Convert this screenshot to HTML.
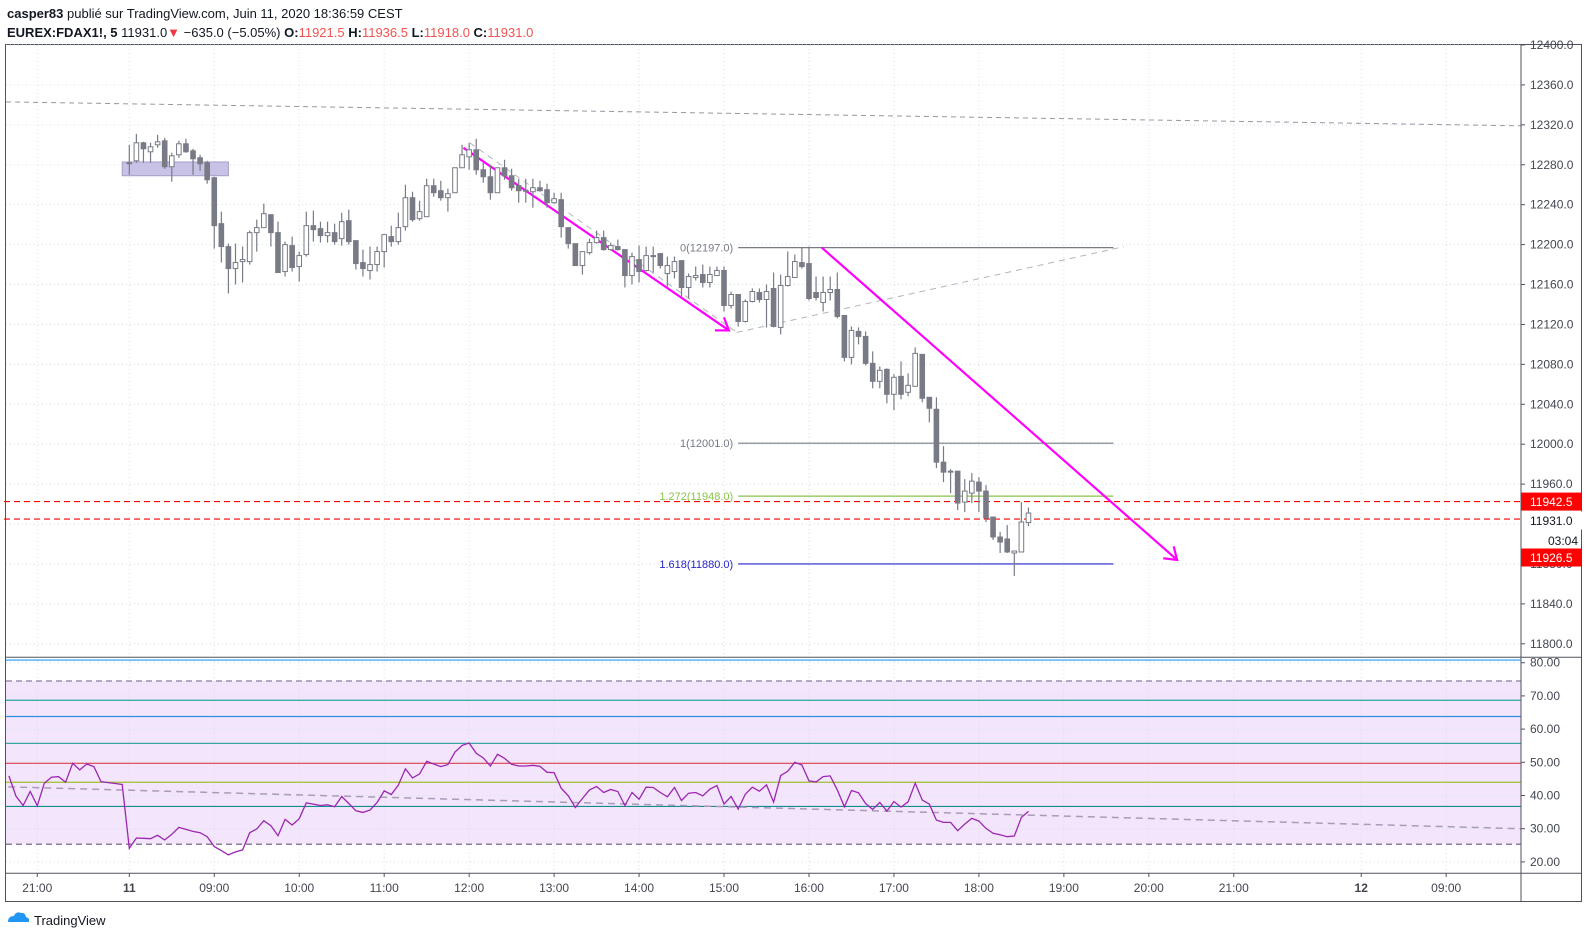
<!DOCTYPE html>
<html><head><meta charset="utf-8">
<style>
html,body{margin:0;padding:0;background:#fff;}
body{width:1588px;height:939px;overflow:hidden;font-family:"Liberation Sans",sans-serif;}
svg text{font-family:"Liberation Sans",sans-serif;}
</style></head>
<body>
<svg id="chart" width="1588" height="939" viewBox="0 0 1588 939" xmlns="http://www.w3.org/2000/svg">
  <g id="header">
    <text x="7" y="18" font-size="13" fill="#131722"><tspan font-weight="bold">casper83</tspan> publié sur TradingView.com, Juin 11, 2020 18:36:59 CEST</text>
    <text x="7" y="37" font-size="13" fill="#131722"><tspan font-weight="bold">EUREX:FDAX1!, 5</tspan> 11931.0<tspan fill="#f23645">▼</tspan> −635.0 (−5.05%) <tspan font-weight="bold">O:</tspan><tspan fill="#f05350">11921.5</tspan> <tspan font-weight="bold">H:</tspan><tspan fill="#f05350">11936.5</tspan> <tspan font-weight="bold">L:</tspan><tspan fill="#f05350">11918.0</tspan> <tspan font-weight="bold">C:</tspan><tspan fill="#f05350">11931.0</tspan></text>
  </g>
  <rect x="5.5" y="44.5" width="1576" height="857" fill="none" stroke="#50535e" stroke-width="1"/>
  <rect x="6" y="681" width="1515" height="163" fill="#f3e5fc"/>
  <g id="grid"></g>
  <g id="rsi"></g>
  <g id="drawings"></g>
  <g id="candles"></g>
  <g id="axes"></g>
  <line x1="1521" y1="44" x2="1521" y2="902" stroke="#50535e"/>
  <line x1="6" y1="657.3" x2="1582" y2="657.3" stroke="#50535e"/>
  <line x1="6" y1="873.3" x2="1582" y2="873.3" stroke="#50535e"/>
  <g>
    <path d="M8 922 q0 -6 6 -6 q2 -5 7 -3 q4 -1 5 4 q4 1 3 5 z" fill="#2196f3"/>
    <text x="34" y="925" font-size="13" fill="#131722">TradingView</text>
  </g>
</svg>
<script>
const NS="http://www.w3.org/2000/svg";
const opens=[12281,12284,12302,12293,12300,12304,12278,12290,12301,12294,12287,12282,12267,12221,12198,12176,12183,12183,12212,12217,12230,12212,12173,12199,12178,12190,12219,12216,12209,12212,12206,12224,12204,12182,12174,12180,12193,12208,12203,12218,12247,12226,12228,12259,12254,12247,12252,12277,12288,12295,12275,12268,12252,12277,12269,12259,12254,12253,12257,12255,12242,12245,12217,12201,12179,12192,12202,12207,12195,12198,12195,12169,12185,12174,12189,12191,12171,12173,12184,12157,12167,12170,12162,12169,12174,12139,12150,12123,12143,12152,12145,12156,12117,12159,12167,12182,12181,12152,12142,12152,12155,12129,12087,12113,12108,12081,12063,12075,12050,12068,12052,12058,12090,12047,12035,11982,11972,11973,11942,11951,11962,11953,11927,11907,11905,11891,11892,11921.5];
const highs=[12300,12311,12303,12302,12310,12307,12292,12304,12306,12296,12290,12284,12268,12233,12201,12201,12198,12214,12225,12241,12230,12223,12203,12208,12193,12233,12234,12223,12223,12221,12232,12235,12204,12195,12198,12198,12210,12219,12232,12260,12253,12244,12266,12266,12264,12256,12277,12300,12302,12306,12283,12280,12277,12285,12276,12266,12266,12266,12264,12261,12252,12252,12217,12201,12193,12206,12214,12214,12202,12205,12195,12192,12199,12198,12198,12191,12188,12188,12184,12171,12178,12180,12178,12178,12178,12153,12150,12145,12156,12156,12160,12172,12170,12193,12190,12197,12198,12168,12168,12168,12172,12129,12118,12117,12113,12093,12078,12076,12070,12083,12071,12097,12090,12047,12047,11998,11975,11973,11965,11971,11967,11959,11927,11912,11919,11893,11942,11936.5];
const lows=[12270,12282,12282,12282,12297,12276,12263,12287,12292,12270,12274,12261,12196,12182,12151,12160,12162,12180,12193,12217,12198,12172,12168,12173,12163,12188,12203,12202,12202,12200,12199,12200,12175,12168,12165,12173,12177,12198,12200,12214,12223,12224,12228,12248,12244,12233,12252,12277,12275,12270,12262,12245,12252,12265,12254,12242,12242,12237,12253,12237,12241,12207,12196,12179,12170,12190,12201,12194,12194,12194,12157,12160,12162,12173,12172,12176,12158,12166,12148,12146,12164,12157,12157,12169,12133,12136,12118,12122,12142,12142,12117,12117,12110,12158,12167,12176,12144,12144,12133,12144,12126,12083,12080,12100,12079,12056,12056,12041,12034,12045,12048,12058,12042,12022,11976,11962,11951,11934,11932,11941,11932,11922,11904,11891,11891,11868,11892,11918];
const closes=[12282,12302,12296,12298,12303,12278,12289,12301,12293,12286,12281,12265,12219,12198,12176,12182,12185,12212,12217,12231,12212,12172,12200,12177,12189,12219,12215,12209,12212,12203,12223,12203,12181,12176,12180,12193,12210,12203,12217,12247,12225,12233,12259,12252,12247,12251,12277,12290,12295,12275,12268,12252,12277,12269,12257,12254,12254.5,12257,12254,12242,12246,12218,12201,12179,12193,12202,12207,12195,12199,12195,12169,12188,12173,12189,12188,12179,12179,12183,12157,12168,12169,12162,12170,12174,12139,12150,12123,12143,12153,12145,12153,12118,12159,12168,12183,12178,12146,12147,12152,12155,12128,12087,12114,12108,12081,12063,12074,12050,12067,12050,12059,12091,12046,12036,11982,11972,11973,11941,11953,11963,11953,11926,11907,11902,11892,11893,11922,11931];
const rsiStart=-17;
const rsiValues=[45.9,39.8,37.0,41.2,36.9,43.7,45.5,45.7,44.0,49.7,47.7,49.5,48.7,44.2,43.9,43.6,43.3,
24.1,27.2,27.1,27.0,28.0,26.6,28.3,30.4,29.8,29.2,28.8,27.6,24.6,23.4,22.1,23.0,23.6,28.8,29.9,32.4,30.9,27.9,32.8,31.1,33.0,37.8,37.4,37.0,37.2,36.6,39.7,37.6,35.4,34.9,35.6,37.9,41.4,40.3,43.1,48.0,45.3,46.5,50.3,49.5,48.7,49.3,53.1,55.1,55.8,52.7,51.3,48.9,52.4,51.2,49.4,48.9,48.9,49.1,48.8,47.0,46.9,
42.2,39.9,36.4,39.1,41.7,42.7,40.9,41.8,41.2,37.0,40.9,38.9,42.5,42.4,40.9,39.6,42.4,38.5,40.7,40.9,39.9,41.9,43.0,37.4,39.7,35.9,40.4,42.5,41.3,43.2,38.0,46.0,47.3,50.0,49.2,44.4,44.1,45.7,45.9,41.7,36.6,41.5,40.8,37.6,35.8,37.9,35.3,38.2,36.5,38.1,43.7,38.6,37.4,32.6,31.9,31.9,29.4,31.4,33.1,32.3,30.1,28.6,28.2,27.6,27.8,33.4,35.2];
const priceTicks=[12400,12360,12320,12280,12240,12200,12160,12120,12080,12040,12000,11960,11920,11880,11840,11800];
const rsiTicks=[80,70,60,50,40,30,20];
const timeLabels=["21:00","11","09:00","10:00","11:00","12:00","13:00","14:00","15:00","16:00","17:00","18:00","19:00","20:00","21:00","12","09:00"];
const timeIndex=[-13,0,12,24,36,48,60,72,84,96,108,120,132,144,156,174,186];
const rsiLevels=[80.8,74.5,68.7,63.8,55.7,49.7,44.0,36.7,25.3];
const rsiLevelColors=["#2196f3","#9c8fb0","#26a69a","#2f8fdf","#3aa6a0","#e04050","#9ac032","#138c96","#8c7f96"];

function X(i){return 129.3+7.08*i;}
function Y(p){return 45+(12400-p)*0.998;}
function R(v){return 662.7+(80-v)*3.32;}
function mk(tag,attrs,parent){const e=document.createElementNS(NS,tag);for(const k in attrs)e.setAttribute(k,attrs[k]);parent.appendChild(e);return e;}

const grid=document.getElementById('grid');
timeIndex.forEach((ti,k)=>{
  const l=mk('line',{x1:X(ti),x2:X(ti),y1:45,y2:873,stroke:'#d6dfe6','stroke-dasharray':'1 3'},grid);
  
  
});
priceTicks.forEach(p=>{
  const l=mk('line',{x1:6,x2:1521,y1:Y(p),y2:Y(p),stroke:'#d6dfe6','stroke-dasharray':'1 3'},grid);
  
  
});
rsiTicks.forEach(v=>{
  const l=mk('line',{x1:6,x2:1521,y1:R(v),y2:R(v),stroke:'#d6dfe6','stroke-dasharray':'1 3'},grid);
  
  
});

const rsiG=document.getElementById('rsi');
rsiLevels.forEach((v,k)=>{
  const dashed=(k===1||k===8);
  const l=mk('line',{x1:6,x2:1521,y1:R(v),y2:R(v),stroke:rsiLevelColors[k],'stroke-width':dashed?1.5:1.2,'stroke-dasharray':dashed?'6 4':'none'},rsiG);
  
  
});
const rsiTrend=mk('line',{x1:X(-17.1),y1:R(42.6),x2:X(196.5),y2:R(30.0),stroke:'#a89cb8','stroke-width':1.5,'stroke-dasharray':'7 5'},rsiG);


let pts=rsiValues.map((v,k)=>X(rsiStart+k).toFixed(1)+','+R(v).toFixed(1)).join(' ');
const rsiLine=mk('polyline',{points:pts,fill:'none',stroke:'#9c27b0','stroke-width':1.3},rsiG);



const dr=document.getElementById('drawings');
function line(i1,p1,i2,p2,attrs,name){
  const l=mk('line',Object.assign({x1:X(i1),y1:Y(p1),x2:X(i2),y2:Y(p2)},attrs),dr);
  
  
  return l;
}
line(-17.4,12343,196.5,12319,{stroke:'#9598a1','stroke-width':1,'stroke-dasharray':'5 4'},'long-trendline');
line(48.1,12302,85.8,12112,{stroke:'#b2b5be','stroke-width':1,'stroke-dasharray':'6 5'},'channel-upper-dashed');
line(85.8,12112,140.5,12198,{stroke:'#b2b5be','stroke-width':1,'stroke-dasharray':'6 5'},'rising-dashed-line');
const rect=mk('rect',{x:X(-1),y:Y(12282.8),width:X(14)-X(-1),height:Y(12269)-Y(12282.8),fill:'#c7c2e6',stroke:'#a49fc8'},dr);


// fib
const fibLevels=[12197,12001,11948,11880];
const fibLabels=["0(12197.0)","1(12001.0)","1.272(11948.0)","1.618(11880.0)"];
const fibColors=["#787b86","#787b86","#8bc34a","#2424c8"];
fibLevels.forEach((p,k)=>{
  line(86,p,139,p,{stroke:fibColors[k],'stroke-width':1.2},'fib-level-line');
  const t=mk('text',{x:X(86)-5,y:Y(p)+4,'font-size':11,'text-anchor':'end',fill:fibColors[k]},dr);
  t.textContent=fibLabels[k];
  
  
});
// red horizontal lines
line(-17.7,11942.5,196.5,11942.5,{stroke:'#ff0000','stroke-width':1.2,'stroke-dasharray':'6 4'},'resistance-line');
line(-17.7,11925,196.5,11925,{stroke:'#ff0000','stroke-width':1.2,'stroke-dasharray':'6 4'},'price-line');
// magenta arrows
function arrow(i1,p1,i2,p2,name){
  line(i1,p1,i2,p2,{stroke:'#ff00ff','stroke-width':2.2},name);
  const x2=X(i2),y2=Y(p2),x1=X(i1),y1=Y(p1);
  const a=Math.atan2(y2-y1,x2-x1);
  const h=mk('polyline',{points:(x2-14*Math.cos(a-0.6))+','+(y2-14*Math.sin(a-0.6))+' '+x2+','+y2+' '+(x2-14*Math.cos(a+0.6))+','+(y2-14*Math.sin(a+0.6)),fill:'none',stroke:'#ff00ff','stroke-width':2.2},dr);
  
  
}
arrow(47.2,12297,84.7,12114,'down-arrow-1');
arrow(97.8,12197,148,11884,'down-arrow-2');

// candles
const cg=document.getElementById('candles');
opens.forEach((o,i)=>{
  const c=closes[i],x=X(i);
  const up=c>=o;
  const w=mk('line',{x1:x,x2:x,y1:Y(highs[i]),y2:Y(lows[i]),stroke:'#787b86','stroke-width':1.2},cg);
  
  
  const top=Y(Math.max(o,c)),bot=Y(Math.min(o,c));
  const b=mk('rect',{x:x-2.3,y:top,width:4.6,height:Math.max(1,bot-top),fill:up?'#ffffff':'#787b86',stroke:'#787b86','stroke-width':1},cg);
  
  
});

// axes
const ax=document.getElementById('axes');
priceTicks.forEach(p=>{
  const tk=mk('line',{x1:1521,x2:1525,y1:Y(p),y2:Y(p),stroke:'#50535e'},ax);
  
  
  const t=mk('text',{x:1530,y:Y(p)+4,'font-size':12,fill:'#434651'},ax);
  t.textContent=p.toFixed(1);
  
  
});
rsiTicks.forEach(v=>{
  const tk=mk('line',{x1:1521,x2:1525,y1:R(v),y2:R(v),stroke:'#50535e'},ax);
  
  
  const t=mk('text',{x:1530,y:R(v)+4,'font-size':12,fill:'#434651'},ax);
  t.textContent=v.toFixed(2);
  
  
});
timeLabels.forEach((s,k)=>{
  const x=X(timeIndex[k]);
  const tk=mk('line',{x1:x,x2:x,y1:873,y2:877,stroke:'#50535e'},ax);
  
  
  const t=mk('text',{x:x,y:892,'font-size':12,'text-anchor':'middle',fill:'#434651','font-weight':(s==='11'||s==='12')?'bold':'normal'},ax);
  t.textContent=s;
  
  
});
// price badges
function badge(y,txt,name,bg,fg){
  const r=mk('rect',{x:1521,y:y-9,width:61,height:18,fill:bg},ax);
  
  
  const t=mk('text',{x:1530,y:y+4.5,'font-size':12,fill:fg},ax);
  t.textContent=txt;
  
  
}
badge(Y(11942.5),"11942.5","resistance-price-badge","#ff0000","#ffffff");
badge(520.5,"11931.0","line-price-badge","#ffffff","#131722");
const cd=mk('text',{x:1578,y:545,'font-size':12,'text-anchor':'end',fill:'#131722'},ax);
cd.textContent="03:04";


badge(557.5,"11926.5","last-price-badge","#ff0000","#ffffff");
</script>
</body></html>
